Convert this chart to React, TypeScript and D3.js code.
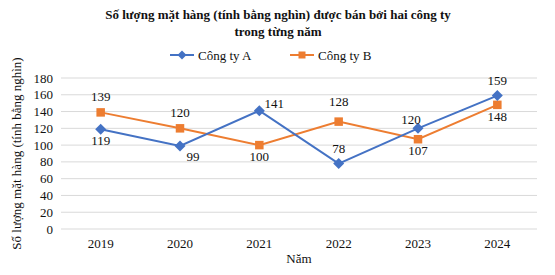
import React from "react";
import * as d3 from "d3";

const years = ["2019", "2020", "2021", "2022", "2023", "2024"];
const companyA = [119, 99, 141, 78, 120, 159];
const companyB = [139, 120, 100, 128, 107, 148];
const yTicks = [0, 20, 40, 60, 80, 100, 120, 140, 160, 180];
const labelPosA = ["below", "belowRight", "aboveRight", "above", "aboveLeft", "above"];
const labelPosB = ["above", "above", "below", "above", "below", "below"];
const seriesNames = ["Công ty A", "Công ty B"];

const W = 555, H = 275;
const margin = { left: 61, right: 18, top: 78, bottom: 46 };
const BLUE = "#4472C4";
const ORANGE = "#ED7D31";
const FONT = "Liberation Serif";

const x = d3.scaleBand<string>().domain(years).range([margin.left, W - margin.right]);
const y = d3.scaleLinear().domain([0, 180]).range([H - margin.bottom, margin.top]);

function offset(pos: string): [number, number] {
  switch (pos) {
    case "above": return [0, -11];
    case "below": return [0, 16];
    case "belowRight": return [13, 15];
    case "aboveRight": return [15, -3];
    case "aboveLeft": return [-7, -4];
    default: return [0, 0];
  }
}

function Diamond({ cx, cy, r = 5.5 }: { cx: number; cy: number; r?: number }) {
  return <path d={`M${cx},${cy - r}L${cx + r},${cy}L${cx},${cy + r}L${cx - r},${cy}Z`} fill={BLUE} />;
}
function Square({ cx, cy, s = 8.5 }: { cx: number; cy: number; s?: number }) {
  return <rect x={cx - s / 2} y={cy - s / 2} width={s} height={s} fill={ORANGE} />;
}

export default function App() {
  const cx = (yr: string) => (x(yr) as number) + x.bandwidth() / 2;
  const line = d3.line<number>().x((_, i) => cx(years[i])).y((d) => y(d));
  const plotMidY = (y(0) + y(180)) / 2;
  const plotMidX = (margin.left + W - margin.right) / 2;
  const ts = { fontFamily: FONT, fill: "#111" } as React.CSSProperties;
  return (
    <svg width={W} height={H} style={{ position: "absolute", left: 0, top: 0, background: "#fff" }}>
      <rect width={W} height={H} fill="#fff" />
      <text x={278} y={19} textAnchor="middle" fontWeight="bold" fontSize={13} style={ts}>
        Số lượng mặt hàng (tính bằng nghìn) được bán bởi hai công ty
      </text>
      <text x={278} y={36} textAnchor="middle" fontWeight="bold" fontSize={13} style={ts}>
        trong từng năm
      </text>
      <g>
        <line x1={170} x2={194} y1={55} y2={55} stroke={BLUE} strokeWidth={2} />
        <Diamond cx={182} cy={55} r={4.5} />
        <text x={198} y={59.5} fontSize={13} style={ts}>{seriesNames[0]}</text>
        <line x1={290} x2={314} y1={55} y2={55} stroke={ORANGE} strokeWidth={2} />
        <Square cx={302} cy={55} s={7} />
        <text x={318} y={59.5} fontSize={13} style={ts}>{seriesNames[1]}</text>
      </g>
      {yTicks.map((t) => (
        <g key={t}>
          <line x1={margin.left} x2={W - margin.right} y1={y(t)} y2={y(t)} stroke="#d9d9d9" strokeWidth={1} />
          <text x={53} y={y(t) + 4.5} textAnchor="end" fontSize={13} style={ts}>{t}</text>
        </g>
      ))}
      {years.map((yr) => (
        <text key={yr} x={cx(yr)} y={248} textAnchor="middle" fontSize={13} style={ts}>{yr}</text>
      ))}
      <text x={plotMidX} y={263} textAnchor="middle" fontSize={13} style={ts}>Năm</text>
      <text transform={`translate(21,${plotMidY}) rotate(-90)`} textAnchor="middle" fontSize={13} style={ts}>
        Số lượng mặt hàng (tính bằng nghìn)
      </text>
      <path d={line(companyB) || ""} fill="none" stroke={ORANGE} strokeWidth={2} />
      <path d={line(companyA) || ""} fill="none" stroke={BLUE} strokeWidth={2} />
      {companyB.map((v, i) => <Square key={"b" + i} cx={cx(years[i])} cy={y(v)} />)}
      {companyA.map((v, i) => <Diamond key={"a" + i} cx={cx(years[i])} cy={y(v)} />)}
      {companyA.map((v, i) => {
        const [dx, dy] = offset(labelPosA[i]);
        return <text key={"la" + i} x={cx(years[i]) + dx} y={y(v) + dy} textAnchor="middle" fontSize={13} style={ts}>{v}</text>;
      })}
      {companyB.map((v, i) => {
        const [dx, dy] = offset(labelPosB[i]);
        const extra = i === 3 ? -5 : 0;
        return <text key={"lb" + i} x={cx(years[i]) + dx} y={y(v) + dy + extra} textAnchor="middle" fontSize={13} style={ts}>{v}</text>;
      })}
    </svg>
  );
}
